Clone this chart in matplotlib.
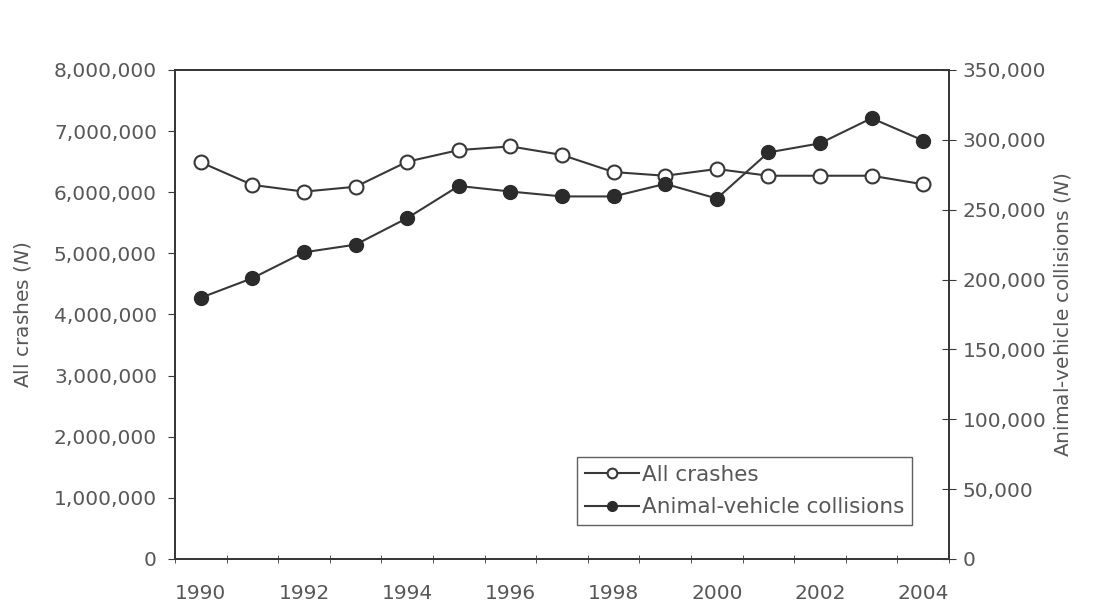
import matplotlib
matplotlib.use('Agg')
from matplotlib import pyplot as plt
from matplotlib.ticker import FuncFormatter, MultipleLocator

# data
years = [1990, 1991, 1992, 1993, 1994, 1995, 1996, 1997,
         1998, 1999, 2000, 2001, 2002, 2003, 2004]
all_crashes = [6490000, 6120000, 6010000, 6090000, 6500000, 6690000, 6750000, 6610000,
               6330000, 6270000, 6380000, 6270000, 6270000, 6270000, 6130000]
animal_collisions = [187000, 201000, 219500, 225000, 244000, 267000, 263000, 259500,
                     259500, 268500, 258000, 291000, 297500, 315500, 299500]
year_labels = [1990, 1992, 1994, 1996, 1998, 2000, 2002, 2004]

plt.rcParams['font.family'] = ['DejaVu Sans']
plt.rcParams['font.size'] = 14.5

line_col = '#383838'
text_col = '#575757'

fig = plt.figure(figsize=(10.98, 6.06), dpi=100)
ax = fig.add_axes([0.1594, 0.0776, 0.7049, 0.8069])
ax2 = ax.twinx()

l1, = ax.plot(years, all_crashes, color=line_col, lw=1.5, marker='o', ms=10,
              mfc='white', mec=line_col, mew=1.5, label='All crashes', zorder=3)
l2, = ax2.plot(years, animal_collisions, color=line_col, lw=1.5, marker='o', ms=10,
               mfc='#2b2b2b', mec='#2b2b2b', label='Animal-vehicle collisions', zorder=3)

ax.set_xlim(1989.5, 2004.5)
ax.set_ylim(0, 8000000)
ax2.set_ylim(0, 350000)

ax.set_xticks(year_labels)
ax.xaxis.set_minor_locator(MultipleLocator(1, offset=0.5))
ax.tick_params(axis='x', which='major', length=0, pad=18, colors=text_col)
ax.tick_params(axis='x', which='minor', length=6, direction='inout', color=line_col)

ax.yaxis.set_major_locator(MultipleLocator(1000000))
ax.yaxis.set_major_formatter(FuncFormatter(lambda v, p: f'{int(v):,}'))
ax.tick_params(axis='y', length=5, direction='out', color=line_col, colors=text_col, pad=8)

ax2.yaxis.set_major_locator(MultipleLocator(50000))
ax2.yaxis.set_major_formatter(FuncFormatter(lambda v, p: f'{int(v):,}'))
ax2.tick_params(axis='y', length=10, direction='inout', color=line_col, colors=text_col, pad=5)

for a in (ax, ax2):
    for s in a.spines.values():
        s.set_color(line_col)
        s.set_linewidth(1.4)

ax.set_ylabel('All crashes ($\\it{N}$)', color=text_col, labelpad=15)
ax2.set_ylabel('Animal-vehicle collisions ($\\it{N}$)', color=text_col, labelpad=4)

leg = ax2.legend(handles=[l1, l2], loc='lower right', bbox_to_anchor=(0.952, 0.0695),
                 borderaxespad=0, frameon=True, fancybox=False, handlelength=2.5,
                 handletextpad=0.15, borderpad=0.35, labelspacing=0.6, markerscale=0.7,
                 fontsize=15.5)
leg.get_frame().set_edgecolor(line_col)
leg.get_frame().set_linewidth(1.0)
for t in leg.get_texts():
    t.set_color(text_col)

plt.savefig('out.png', dpi=100)
